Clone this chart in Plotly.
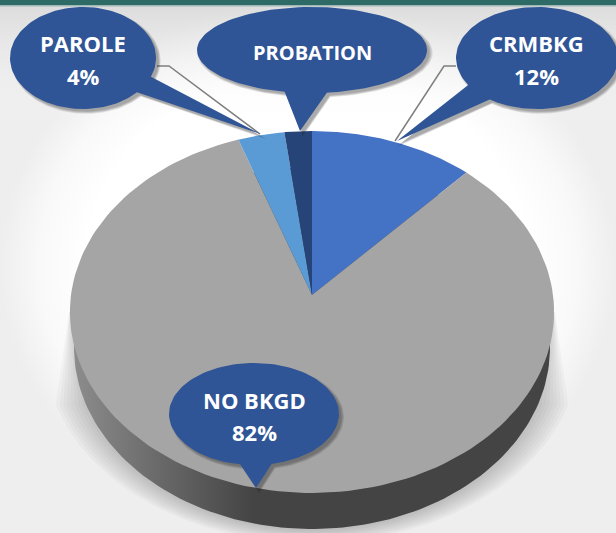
import numpy as np
import plotly.graph_objects as go

categories = ["CRMBKG", "NO BKGD", "PAROLE", "PROBATION"]
values = [12.0, 82.6, 3.4, 2.0]
percent_labels = ["12%", "82%", "4%", ""]
slice_colors = ["#4472C4", "#A5A5A5", "#5B9BD5", "#264478"]

W, H = 616, 533
CX, CY = 312, 295
A, B, K = 241.0, 179.4, 0.0939
WALL_DROP = 36
CALLOUT = "#2F5597"
FONT = "Open Sans"


def project(theta, r=1.0):
    """Clockwise angle from twelve o'clock on the tilted disc, to page pixels."""
    s, c = r * np.sin(theta), r * np.cos(theta)
    d = 1 + K * c
    return CX + A * s / d, CY - B * c / d


fig = go.Figure()


def poly(x, y, fill=None, name="", **kw):
    fig.add_trace(go.Scatter(x=list(x), y=list(y), mode="lines", fill="toself",
                             fillcolor=fill, line=dict(width=0),
                             hoverinfo="skip", showlegend=False, name=name, **kw))


# page background
poly([0, W, W, 0], [0, 0, H, H], fill="#ffffff",
     fillgradient=dict(type="radial",
                       colorscale=[[0, "#ffffff"], [0.72, "#ffffff"], [0.87, "#f9f9f9"], [1, "#eeeeee"]]))
poly([0, W, W, 0], [5, 5, 125, 125], fill="rgba(0,0,0,0)",
     fillgradient=dict(type="vertical", start=5, stop=125,
                       colorscale=[[0, "rgba(205,205,205,0.55)"], [1, "rgba(255,255,255,0)"]]))
poly([0, W, W, 0], [0, 0, 5, 5], fill="#2F6B66")
poly([0, W, W, 0], [5, 5, 6.5, 6.5], fill="#9DB8B5")

# soft shadow under the disc: a wedge at each side, running into a halo below the wall
for d in np.arange(20, -0.1, -2.5):
    rx, ry = 238 + 1.5 * d, 181 + 0.7 * d
    t0 = np.arcsin((405 - 348) / ry)
    t = np.linspace(-(np.pi / 2 - t0), np.pi / 2 - t0, 120)
    top_half = 240 + 0.15 * d
    x = [312 - top_half, *(312 + rx * np.sin(t)), 312 + top_half]
    y = [312, *(348 + ry * np.cos(t)), 312]
    poly(x, y, fill="rgba(70,70,70,0.034)")

# side wall
t = np.linspace(0, 2 * np.pi, 240)
wx, wy = project(t)
poly(CX + (wx - CX) * 0.983, wy + WALL_DROP, fill="#444444",
     fillgradient=dict(type="horizontal", start=70, stop=554,
                       colorscale=[[0, "#8E8E8E"], [0.2, "#666666"], [0.38, "#444444"], [1, "#444444"]]))

# slices
edges = np.cumsum([0] + values) / sum(values) * 2 * np.pi
for name, c, a0, a1 in zip(categories, slice_colors, edges[:-1], edges[1:]):
    th = np.linspace(a0, a1, 160)
    x, y = project(th)
    fig.add_trace(go.Scatter(x=[CX, *x, CX], y=[CY, *y, CY], mode="lines", fill="toself",
                             fillcolor=c, line=dict(width=0), name=name,
                             hoverinfo="name", showlegend=False))

# leader lines
leaders = [([157, 169, 260], [66, 66, 134]), ([456, 444, 395], [66, 66, 141])]
for lx, ly in leaders:
    fig.add_trace(go.Scatter(x=lx, y=ly, mode="lines", line=dict(color="#7F7F7F", width=1.5),
                             hoverinfo="skip", showlegend=False))


def callout(cx, cy, rx, ry, b1, tip, b2):
    a1 = np.arctan2((b1[1] - cy) / ry, (b1[0] - cx) / rx)
    a2 = np.arctan2((b2[1] - cy) / ry, (b2[0] - cx) / rx)
    if a2 < a1:
        a2 += 2 * np.pi
    # walk the long way round the ellipse, from b2 back to b1
    if a2 - a1 < np.pi:
        ang = np.linspace(a2, a1 + 2 * np.pi, 120)
    else:
        ang = np.linspace(a1, a2, 120)
    x = [*(cx + rx * np.cos(ang)), tip[0]]
    y = [*(cy + ry * np.sin(ang)), tip[1]]
    return np.array(x), np.array(y)


callouts = [
    ((83, 58, 73, 51), (152, 77), (260.5, 134), (138, 93)),
    ((312, 50, 115, 43), (284, 92.7), (300, 131), (327, 93)),
    ((537, 58, 81, 51), (468, 85), (397, 141), (489, 100)),
    ((254, 414, 85, 51), (240, 465), (256, 488), (272, 465)),
]
for (cx, cy, rx, ry), b1, tip, b2 in callouts:
    x, y = callout(cx, cy, rx, ry, b1, tip, b2)
    for k in (6, 5, 4, 3, 2):
        sx = cx + (x - cx) * (1 + (k - 3) * 0.008) + 3
        sy = cy + (y - cy) * (1 + (k - 3) * 0.012) + 3
        poly(sx, sy, fill="rgba(30,30,30,0.09)")
    poly(x, y, fill=CALLOUT)

label_pos = {"CRMBKG": (536, 43, 76), "NO BKGD": (254, 400, 432), "PAROLE": (83, 43, 76), "PROBATION": (312, 52, None)}
for name, pct in zip(categories, percent_labels):
    lx, y1, y2 = label_pos[name]
    fs = 22 if name != "PROBATION" else 20
    fig.add_annotation(x=lx, y=y1, text=f"<b>{name}</b>", showarrow=False,
                       font=dict(family=FONT, size=fs, color="white"))
    if pct:
        fig.add_annotation(x=lx, y=y2, text=f"<b>{pct}</b>", showarrow=False,
                           font=dict(family=FONT, size=fs, color="white"))

fig.update_layout(
    width=W, height=H, margin=dict(l=0, r=0, t=0, b=0),
    paper_bgcolor="#ffffff", plot_bgcolor="#ffffff", showlegend=False,
    xaxis=dict(range=[0, W], visible=False, fixedrange=True),
    yaxis=dict(range=[H, 0], visible=False, fixedrange=True),
)
fig.write_html("out.html", config={"displayModeBar": False},
               post_script="document.body.style.margin='0';document.documentElement.style.overflow='hidden';")
